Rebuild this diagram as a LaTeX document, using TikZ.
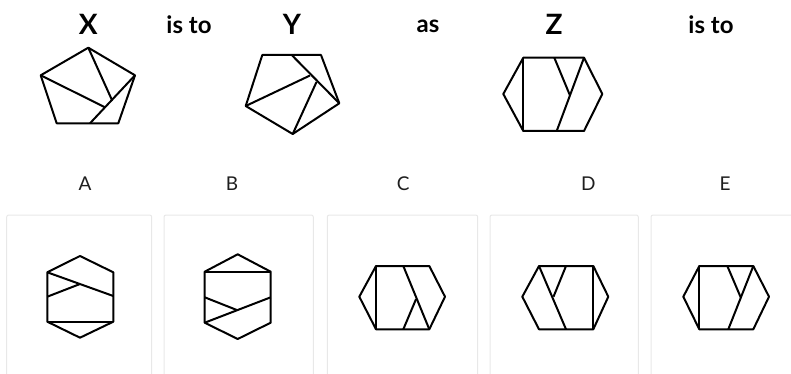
\documentclass[tikz,border=0pt]{standalone}
\usepackage{fontspec}
\setmainfont{Lato}
\definecolor{boxGray}{RGB}{232,232,232}
\definecolor{labGray}{RGB}{30,30,30}

\begin{document}
\begin{tikzpicture}[x=1pt,y=-1pt,
 fig/.style={line width=2pt,line join=round,black},
 card/.style={draw=boxGray,line width=1pt,rounded corners=2pt},
 head/.style={font=\fontsize{28}{32}\selectfont\bfseries,inner sep=0pt},
 word/.style={font=\fontsize{24}{28}\selectfont\bfseries,inner sep=0pt},
 opt/.style={font=\fontsize{19}{22}\selectfont,text=labGray,inner sep=0pt}]
\path[use as bounding box] (0,0) rectangle (791,374);
% question row
\node[head] (lx) at (88.3,24) {X};
\node[word] (is1) at (189,25) {is to};
\node[head] (ly) at (292,24) {Y};
\node[word] (as) at (428,26) {as};
\node[head] (lz) at (554,24) {Z};
\node[word] (is2) at (711,25) {is to};
% X
\draw[fig] (88.3,47.7) -- (135,75.3) -- (118.3,123.3) -- (56.7,123.3) -- (40.7,75.3) -- cycle;
\draw[fig] (135,75.3) -- (90,123.3);
\draw[fig] (88.3,47.7) -- (112.3,100.8);
\draw[fig] (40.7,75.3) -- (105,107.3);
% Y
\draw[fig] (262.3,55) -- (321,55) -- (339.3,103.3) -- (292.7,134) -- (245.7,106) -- cycle;
\draw[fig] (291.7,55) -- (339.3,103.3);
\draw[fig] (245.7,106) -- (310,75.5);
\draw[fig] (292.7,134) -- (316.5,82);
% Z
\draw[fig] (503.3,94) -- (523.3,57.7) -- (584,57.7) -- (602.3,94) -- (584,131) -- (523.3,131) -- cycle;
\draw[fig] (523.3,57.7) -- (523.3,131);
\draw[fig] (584,57.7) -- (556.7,131);
\draw[fig] (554.3,57.7) -- (570,95.5);
% options
\node[opt] (la) at (85,183.3) {A};
\node[opt] (lb) at (232,183.3) {B};
\node[opt] (lc) at (403.3,183.3) {C};
\node[opt] (ld) at (588.3,183.3) {D};
\node[opt] (le) at (725,183.3) {E};
\draw[card] (6.7,380) -- (6.7,215) -- (151.7,215) -- (151.7,380);
\draw[card] (164,380) -- (164,215) -- (313.3,215) -- (313.3,380);
\draw[card] (327.3,380) -- (327.3,215) -- (477.7,215) -- (477.7,380);
\draw[card] (490,380) -- (490,215) -- (638.3,215) -- (638.3,380);
\draw[card] (651,380) -- (651,215) -- (800,215);
% A
\draw[fig] (80,256) -- (113.3,272.3) -- (113.3,321.7) -- (80,337.7) -- (47.3,321.7) -- (47.3,272.3) -- cycle;
\draw[fig] (47.3,321.7) -- (113.3,321.7);
\draw[fig] (47.3,272.3) -- (113.3,296);
\draw[fig] (47.3,296.7) -- (80,284);
% B
\draw[fig] (237.7,254.3) -- (270.7,271.7) -- (270.7,322.7) -- (237.7,339) -- (204.7,322.7) -- (204.7,271.7) -- cycle;
\draw[fig] (204.7,271.7) -- (270.7,271.7);
\draw[fig] (204.7,322.7) -- (270.7,297.3);
\draw[fig] (204.7,297.3) -- (237.3,310.2);
% C
\draw[fig] (359.3,296.7) -- (376,266) -- (429.3,266) -- (445,296.7) -- (429.3,329.3) -- (376,329.3) -- cycle;
\draw[fig] (376,266) -- (376,329.3);
\draw[fig] (403.3,266) -- (429.3,329.3);
\draw[fig] (403.3,329.3) -- (416,299.2);
% D
\draw[fig] (522.3,296.7) -- (539,266) -- (593.3,266) -- (608.3,296.7) -- (593.3,329.3) -- (539,329.3) -- cycle;
\draw[fig] (593.3,266) -- (593.3,329.3);
\draw[fig] (539,266) -- (566,329.3);
\draw[fig] (566,266) -- (553.5,296.7);
% E
\draw[fig] (683.3,296.7) -- (699.3,266) -- (753.3,266) -- (769,296.7) -- (753.3,329.3) -- (699.3,329.3) -- cycle;
\draw[fig] (699.3,266) -- (699.3,329.3);
\draw[fig] (753.3,266) -- (728.3,329.3);
\draw[fig] (727.3,266) -- (740.7,297.3);
\end{tikzpicture}
\end{document}
